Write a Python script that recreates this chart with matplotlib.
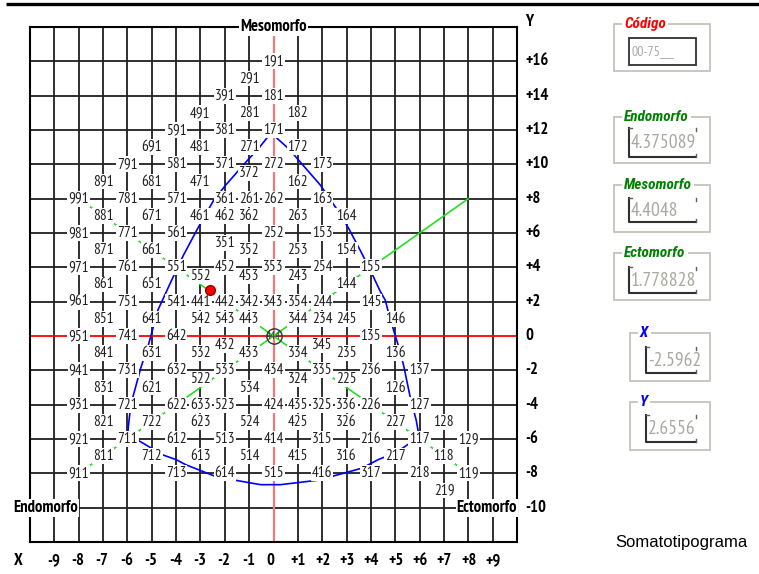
import matplotlib
matplotlib.use("Agg")
import matplotlib.pyplot as plt
from matplotlib import font_manager
from matplotlib.patches import Rectangle

# somatotype codes drawn on the chart, row by row (chart Y, then codes and their chart X)
row_y = [16, 15, 14, 13, 12, 11, 10, 9, 9.5, 8, 7, 6, 5.4, 5, 4, 3.5, 3, 2, 1, 0, -0.5,
         -1, -2, -2.5, -3, -4, -5, -6, -7, -8, -9]
row_codes = [
    ["191"],
    ["291"],
    ["391", "181"],
    ["491", "281", "182"],
    ["591", "381", "171"],
    ["691", "481", "271", "172"],
    ["791", "581", "371", "272", "173"],
    ["891", "681", "471", "162"],
    ["372"],
    ["991", "781", "571", "361", "261", "262", "163"],
    ["881", "671", "461", "462", "362", "263", "164"],
    ["981", "771", "561", "252", "153"],
    ["351"],
    ["871", "661", "352", "253", "154"],
    ["971", "761", "551", "452", "353", "254", "155"],
    ["552", "453", "243"],
    ["861", "651", "144"],
    ["961", "751", "541", "441", "442", "342", "343", "354", "244", "145"],
    ["851", "641", "542", "543", "443", "344", "234", "245", "146"],
    ["951", "741", "642", "135"],
    ["432", "345"],
    ["841", "631", "532", "433", "334", "235", "136"],
    ["941", "731", "632", "533", "434", "335", "236", "137"],
    ["522", "324", "225"],
    ["831", "621", "534", "126"],
    ["931", "721", "622", "633", "523", "424", "435", "325", "336", "226", "127"],
    ["821", "722", "623", "524", "425", "326", "227", "128"],
    ["921", "711", "612", "513", "414", "315", "216", "117", "129"],
    ["811", "712", "613", "514", "415", "316", "217", "118"],
    ["911", "713", "614", "515", "416", "317", "218", "119"],
    ["219"],
]
row_x = [
    [0],
    [-1],
    [-2, 0],
    [-3, -1, 1],
    [-4, -2, 0],
    [-5, -3, -1, 1],
    [-6, -4, -2, 0, 2],
    [-7, -5, -3, 1],
    [-1],
    [-8, -6, -4, -2, -1, 0, 2],
    [-7, -5, -3, -2, -1, 1, 3],
    [-8, -6, -4, 0, 2],
    [-2],
    [-7, -5, -1, 1, 3],
    [-8, -6, -4, -2, 0, 2, 4],
    [-3, -1, 1],
    [-7, -5, 3],
    [-8, -6, -4, -3, -2, -1, 0, 1, 2, 4],
    [-7, -5, -3, -2, -1, 1, 2, 3, 5],
    [-8, -6, -4, 4],
    [-2, 2],
    [-7, -5, -3, -1, 1, 3, 5],
    [-8, -6, -4, -2, 0, 2, 4, 6],
    [-3, 1, 3],
    [-7, -5, -1, 5],
    [-8, -6, -4, -3, -2, 0, 1, 2, 3, 4, 6],
    [-7, -5, -3, -1, 1, 3, 5, 7],
    [-8, -6, -4, -2, 0, 2, 4, 6, 8],
    [-7, -5, -3, -1, 1, 3, 5, 7],
    [-8, -4, -2, 0, 2, 4, 6, 8],
    [7],
]

# blue outline of the chart
outline_x = [0, -0.25, -0.57, -1.07, -1.97, -2.46, -3.1, -3.7, -4.2, -4.75, -5.16, -5.3, -5.45, -5.86, -5.96, -6.0,
             -5.59, -4.9, -4.56, -4.0, -3.6, -2.38, -1.7, -0.53, 0.29, 2.0, 2.4, 3.63, 4.3, 4.66, 5.2, 5.6, 6.0,
             5.86, 5.61, 5.34, 5.14, 4.93, 4.73, 4.59, 4.39, 4.04, 3.63, 3.09, 2.68, 2.4, 1.93, 1.04, 0.63, 0.08, 0]
outline_y = [11.9, 11.57, 11.0, 10.23, 8.78, 7.9, 6.3, 4.7, 3.2, 1.5, -0.64, -1.2, -1.86, -4.0, -5.27, -6.0,
             -6.05, -6.63, -6.92, -7.2, -7.5, -8.18, -8.37, -8.66, -8.66, -8.37, -8.18, -7.7, -7.2, -7.0, -6.63, -6.24, -6.0,
             -4.9, -3.53, -1.69, -0.62, 0.35, 1.32, 2.09, 2.58, 3.64, 4.8, 6.26, 7.23, 7.8, 8.78, 10.23, 10.9, 11.6, 11.9]

# green diagonals
diag_x = [-8, 8]
diag_up_y = [-8, 8]
diag_down_y = [8, -8]

# subject point
point_x = -2.5962
point_y = 2.6556

x_ticks = [-9, -8, -7, -6, -5, -4, -3, -2, -1, 0, 1, 2, 3, 4, 5, 6, 7, 8, 9]
x_tick_labels = ["-9", "-8", "-7", "-6", "-5", "-4", "-3", "-2", "-1", "0",
                 "+1", "+2", "+3", "+4", "+5", "+6", "+7", "+8", "+9"]
y_ticks = [16, 14, 12, 10, 8, 6, 4, 2, 0, -2, -4, -6, -8, -10]
y_tick_labels = ["+16", "+14", "+12", "+10", "+8", "+6", "+4", "+2", "0",
                 "-2", "-4", "-6", "-8", "-10"]

box_titles = ["Código", "Endomorfo", "Mesomorfo", "Ectomorfo", "X", "Y"]
box_values = ["00-75___", "4.375089", "4.4048", "1.778828", "-2.5962", "2.6556"]
box_colors = ["red", "#008000", "#008000", "#008000", "blue", "blue"]

names = {f.name for f in font_manager.fontManager.ttflist}
NARROW = ["PT Sans Narrow" if "PT Sans Narrow" in names else "Liberation Sans", "DejaVu Sans"]
TITLEF = ["Roboto Condensed" if "Roboto Condensed" in names else "Liberation Sans", "DejaVu Sans"]

fig = plt.figure(figsize=(7.59, 5.74), dpi=100)
ax = fig.add_axes([30 / 759, 32 / 574, 487 / 759, 515 / 574])
ax.set_xlim(-10, 10)
ax.set_ylim(-12, 18)
ax.set_xticks([])
ax.set_yticks([])
for s in ax.spines.values():
    s.set_linewidth(1.5)
    s.set_color("black")
    s.set_zorder(5)

for x in x_ticks:
    if x != 0:
        ax.axvline(x, color="#202020", lw=1.3, zorder=1)
for y in y_ticks:
    if y != 0:
        ax.axhline(y, color="#202020", lw=1.3, zorder=1)
ax.axvline(0, color="#f07878", lw=1.6, zorder=1.5)
ax.axhline(0, color="red", lw=1.3, zorder=1.5)

ax.plot(diag_x, diag_up_y, color="#22e022", lw=1.2, zorder=2)
ax.plot(diag_x, diag_down_y, color="#22e022", lw=1.2, zorder=2)
ax.plot(outline_x, outline_y, color="blue", lw=1.2, zorder=2)

lab_box = dict(boxstyle="square,pad=0.06", fc="white", ec="none")
for y, codes, xs in zip(row_y, row_codes, row_x):
    for c, x in zip(codes, xs):
        ax.text(x, y, c, ha="center", va="center", fontsize=11, family=NARROW,
                color="#202020", bbox=lab_box, zorder=3)

# centre 444 circled
ax.text(0, 0, "444", ha="center", va="center", fontsize=8, family=NARROW, color="#404040", zorder=3)
ax.plot([0], [0], "o", mfc="none", mec="#303030", ms=11, mew=1.0, zorder=3)

ax.plot([point_x], [point_y], "o", color="red", mec="#900000", ms=7, zorder=4)

bold = dict(family=NARROW, fontweight="bold", fontsize=12, color="black")
ax.text(0, 18, "Mesomorfo", ha="center", va="center", bbox=lab_box, zorder=6, clip_on=False, **bold)
ax.text(-10.68, -10, "Endomorfo", ha="left", va="center", bbox=lab_box, zorder=6, clip_on=False, **bold)
ax.text(10, -10, "Ectomorfo", ha="right", va="center", bbox=lab_box, zorder=6, clip_on=False, **bold)

for y, t in zip(y_ticks, y_tick_labels):
    ax.text(10.33, y, t, ha="left", va="center", clip_on=False, **bold)
ax.text(10.33, 18.3, "Y", ha="left", va="center", clip_on=False, **bold)
for x, t in zip(x_ticks, x_tick_labels):
    ax.text(x - 0.3, -13.1, t, ha="left", va="center", clip_on=False, **bold)
ax.text(-10.68, -13.1, "X", ha="left", va="center", clip_on=False, **bold)

# right hand panel, drawn in pixel coordinates
pan = fig.add_axes([0, 0, 1, 1], zorder=10)
pan.set_xlim(0, 759)
pan.set_ylim(574, 0)
pan.axis("off")
pan.plot([6, 759], [4, 4], color="black", lw=2.4, solid_capstyle="butt")

frames = [(614, 24, 710, 71), (614, 117, 710, 163), (614, 185, 710, 232),
          (614, 253, 710, 300), (630, 333, 710, 381), (630, 402, 710, 450)]
inners = [(629, 38, 696, 65), (629, 128, 696, 157), (629, 198, 696, 222),
          (629, 267, 696, 293), (646, 347, 696, 373), (646, 415, 696, 442)]
fc = "#c4c4bc"
for i, (title, val, col) in enumerate(zip(box_titles, box_values, box_colors)):
    l, t, r, b = frames[i]
    pan.add_patch(Rectangle((l, t), r - l, b - t, fill=False, ec=fc, lw=1.3))
    pan.text(l + 10, t, title, ha="left", va="center", color=col, fontsize=11,
             family=TITLEF, fontweight="bold", fontstyle="italic",
             bbox=dict(boxstyle="square,pad=0.15", fc="white", ec="none"))
    il, it, ir, ib = inners[i]
    if i == 0:
        pan.add_patch(Rectangle((il, it), ir - il, ib - it, fill=False, ec="#303030", lw=1.3))
        pan.text(il + 2, (it + ib) / 2, val, ha="left", va="center", color="#a8a8a8",
                 fontsize=10, family=NARROW)
    else:
        pan.plot([il, il, ir], [it, ib, ib], color="#303030", lw=1.5)
        pan.plot([il, il + 3], [it, it], color="#606060", lw=1.0)
        pan.plot([ir, ir], [it, it + 3], color="#606060", lw=1.0)
        pan.plot([ir, ir], [ib - 3, ib], color="#606060", lw=1.0)
        clip = Rectangle((il, it), ir - il - 1, ib - it, fill=False, ec="none")
        pan.add_patch(clip)
        tx = pan.text(il + 2, (it + ib) / 2 + 1, val, ha="left", va="center", color="#a8a8a0",
                      fontsize=14, family=NARROW)
        tx.set_clip_path(clip)

pan.text(615, 543, "Somatotipograma", ha="left", va="center", fontsize=12,
         family=["Liberation Sans", "DejaVu Sans"], color="black")

fig.savefig("out.png", dpi=100)
